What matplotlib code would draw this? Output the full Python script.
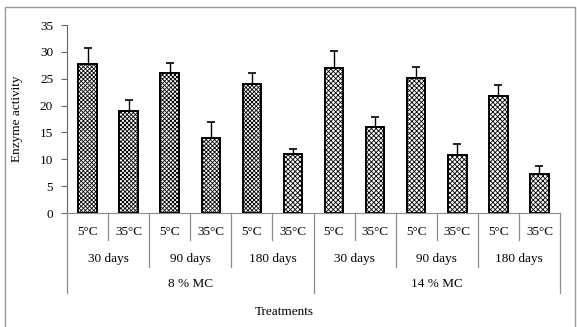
import numpy as np
import matplotlib
matplotlib.use("Agg")
import matplotlib.pyplot as plt
from matplotlib.patches import Rectangle

plt.rcParams['font.family'] = ['Liberation Serif', 'DejaVu Serif']
plt.rcParams['hatch.linewidth'] = 0.6

temps = ['5°C', '35°C'] * 6
days = ['30 days', '90 days', '180 days'] * 2
mc = ['8 % MC', '14 % MC']
activity = [27.7, 18.9, 26.0, 14.0, 24.0, 11.0, 27.0, 16.0, 25.2, 10.8, 21.8, 7.2]
err = [3.0, 2.1, 2.0, 3.0, 2.1, 1.0, 3.1, 1.8, 2.0, 2.1, 2.1, 1.5]

W, H = 577, 327
fig = plt.figure(figsize=(W / 100, H / 100), dpi=100)
ax = fig.add_axes([67 / W, (H - 213) / H, (560 - 67) / W, 188 / H])

x = np.arange(len(activity))
hatches = ['xxxxxxxx'] * 5 + ['xxxxxxx'] * 7
bars = ax.bar(x, activity, width=0.45, color='white', edgecolor='black', linewidth=1.4)
for b, h in zip(bars, hatches):
    b.set_hatch(h)
ax.errorbar(x, activity, yerr=[np.zeros(len(err)), err], fmt='none', ecolor='black',
            elinewidth=1.0, capsize=3, capthick=1.2)

ax.set_xlim(-0.5, len(activity) - 0.5)
ax.set_ylim(0, 35)
ax.set_yticks(np.arange(0, 36, 5))
ax.tick_params(axis='y', labelsize=9.5, length=4, width=0.8, color='0.4', pad=6)
ax.set_xticks([])
for s in ['top', 'right']:
    ax.spines[s].set_visible(False)
ax.spines['bottom'].set_color('0.55')
ax.spines['left'].set_color('0.4')
ax.set_ylabel('Enzyme activity', fontsize=9.5)
ax.yaxis.set_label_coords(-0.09, 0.5)

tr = ax.get_xaxis_transform()
gcol = '0.55'
fs = 9.5
for i, t in enumerate(temps):
    ax.text(i, -0.101, t, transform=tr, ha='center', va='center', fontsize=fs)
for j, d in enumerate(days):
    ax.text(2 * j + 0.5, -0.245, d, transform=tr, ha='center', va='center', fontsize=fs)
for k, m in enumerate(mc):
    ax.text(6 * k + 2.5, -0.378, m, transform=tr, ha='center', va='center', fontsize=fs)
ax.text(4.8, -0.527, 'Treatments', transform=tr, ha='center', va='center', fontsize=fs)

# separators of the grouped category axis
for b in np.arange(-0.5, 12, 1.0):
    k = int(b + 0.5)
    if k % 6 == 0:
        y1 = -0.426
    elif k % 2 == 0:
        y1 = -0.287
    else:
        y1 = -0.144
    ax.plot([b, b], [0, y1], transform=tr, color=gcol, lw=0.9, clip_on=False)

fig.patches.append(Rectangle((5 / W, -0.1), 570 / W, 1.1 - 7 / H, transform=fig.transFigure,
                             fill=False, edgecolor='0.6', lw=1.0))

fig.savefig('out.png', dpi=100)
